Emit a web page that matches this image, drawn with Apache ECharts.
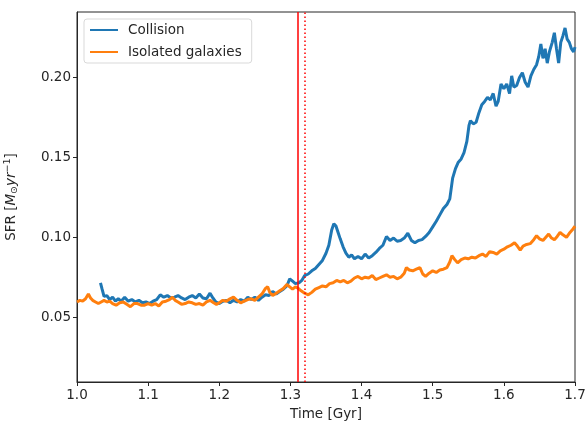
<!DOCTYPE html>
<html>
<head>
<meta charset="utf-8">
<script src="https://cdn.jsdelivr.net/npm/echarts@6/dist/echarts.min.js"></script>
<style>
  html, body { margin: 0; padding: 0; background: #fff; }
</style>
</head>
<body>
<div id="container" style="width:585px;height:427px;"></div>
<script type="text/javascript">
var collisionTime = [1.033,1.035,1.038,1.042,1.046,1.050,1.054,1.058,1.062,1.067,1.072,1.077,1.082,1.087,1.092,1.097,1.102,1.107,1.112,1.117,
  1.122,1.127,1.132,1.137,1.142,1.147,1.152,1.157,1.162,1.167,1.172,1.177,1.182,1.187,1.191,1.195,1.200,1.205,1.210,1.215,
  1.220,1.225,1.230,1.235,1.240,1.245,1.250,1.255,1.260,1.265,1.270,1.275,1.280,1.285,1.290,1.295,1.299,1.303,1.307,1.312,
  1.316,1.320,1.325,1.330,1.335,1.340,1.345,1.350,1.354,1.358,1.361,1.364,1.367,1.370,1.374,1.378,1.382,1.386,1.390,1.395,
  1.400,1.405,1.410,1.415,1.420,1.425,1.430,1.435,1.440,1.445,1.450,1.455,1.460,1.465,1.470,1.475,1.480,1.485,1.490,1.495,
  1.500,1.505,1.510,1.515,1.520,1.524,1.528,1.532,1.536,1.540,1.544,1.548,1.551,1.553,1.557,1.561,1.565,1.569,1.573,1.577,
  1.581,1.585,1.589,1.592,1.596,1.600,1.604,1.608,1.611,1.614,1.618,1.622,1.626,1.630,1.634,1.638,1.642,1.646,1.649,1.652,
  1.655,1.658,1.661,1.664,1.668,1.671,1.674,1.677,1.680,1.683,1.686,1.689,1.692,1.695,1.698,1.700];
var collisionSfr = [0.0715,0.068,0.063,0.0635,0.061,0.0625,0.060,0.0615,0.060,0.0625,0.060,0.061,0.0595,0.0605,0.059,0.0595,0.0585,0.060,0.061,0.064,
  0.0625,0.0635,0.062,0.0625,0.0635,0.062,0.061,0.0625,0.0635,0.062,0.0645,0.062,0.0615,0.065,0.062,0.0595,0.0585,0.060,0.0605,0.059,
  0.0605,0.0595,0.061,0.060,0.0625,0.061,0.0625,0.0605,0.0625,0.064,0.0635,0.066,0.0645,0.066,0.0675,0.0695,0.074,0.0725,0.071,0.0715,
  0.073,0.076,0.077,0.079,0.0805,0.083,0.0855,0.090,0.095,0.1045,0.1085,0.107,0.103,0.099,0.094,0.090,0.0875,0.089,0.0865,0.088,
  0.0865,0.0895,0.087,0.0885,0.0905,0.093,0.095,0.1005,0.098,0.0995,0.0975,0.098,0.0995,0.1025,0.098,0.0965,0.098,0.0985,0.1005,0.103,
  0.1065,0.110,0.114,0.118,0.1205,0.124,0.137,0.143,0.147,0.149,0.153,0.160,0.170,0.173,0.171,0.172,0.178,0.183,0.185,0.1875,
  0.186,0.190,0.182,0.185,0.196,0.193,0.196,0.190,0.201,0.194,0.195,0.200,0.203,0.197,0.194,0.201,0.205,0.208,0.213,0.221,
  0.212,0.218,0.209,0.216,0.222,0.228,0.218,0.209,0.222,0.226,0.231,0.224,0.222,0.218,0.216,0.219];

var isolatedTime = [1.000,1.004,1.008,1.012,1.016,1.019,1.022,1.026,1.030,1.034,1.038,1.042,1.046,1.050,1.055,1.060,1.065,1.070,1.075,1.080,
  1.085,1.090,1.095,1.100,1.105,1.110,1.115,1.120,1.125,1.130,1.134,1.138,1.142,1.147,1.152,1.157,1.162,1.167,1.172,1.177,
  1.182,1.187,1.192,1.196,1.200,1.205,1.210,1.215,1.220,1.225,1.230,1.235,1.240,1.245,1.250,1.255,1.260,1.265,1.268,1.271,
  1.275,1.280,1.285,1.290,1.295,1.299,1.303,1.307,1.311,1.315,1.320,1.325,1.330,1.335,1.340,1.345,1.350,1.355,1.360,1.365,
  1.370,1.375,1.380,1.385,1.390,1.395,1.400,1.405,1.410,1.415,1.420,1.425,1.430,1.435,1.440,1.445,1.450,1.455,1.460,1.463,
  1.467,1.472,1.477,1.482,1.486,1.490,1.495,1.500,1.505,1.510,1.515,1.520,1.524,1.527,1.531,1.535,1.540,1.545,1.550,1.555,
  1.560,1.565,1.570,1.575,1.580,1.585,1.590,1.595,1.600,1.605,1.610,1.615,1.619,1.623,1.627,1.632,1.637,1.642,1.646,1.650,
  1.655,1.659,1.663,1.667,1.671,1.675,1.679,1.683,1.688,1.692,1.696,1.700];
var isolatedSfr = [0.0595,0.0605,0.060,0.0615,0.0645,0.062,0.0605,0.0595,0.0585,0.0595,0.0605,0.0595,0.060,0.0585,0.0575,0.059,0.0595,0.058,0.0565,0.0585,
  0.0585,0.0575,0.0575,0.0585,0.0575,0.0585,0.057,0.0595,0.060,0.061,0.0625,0.0605,0.0595,0.058,0.0585,0.0595,0.059,0.058,0.0585,0.0575,
  0.0595,0.0605,0.059,0.058,0.059,0.0605,0.060,0.0615,0.0625,0.0605,0.059,0.060,0.061,0.0615,0.0605,0.0625,0.0645,0.068,0.069,0.0655,
  0.0635,0.065,0.0665,0.068,0.0705,0.069,0.0675,0.069,0.068,0.0665,0.065,0.064,0.0655,0.0675,0.0685,0.0695,0.069,0.071,0.0715,0.073,
  0.072,0.073,0.0715,0.0725,0.0745,0.0755,0.074,0.075,0.0745,0.076,0.0735,0.0745,0.0755,0.0765,0.075,0.0755,0.074,0.075,0.0775,0.081,
  0.0795,0.079,0.080,0.081,0.077,0.0755,0.0775,0.079,0.078,0.0795,0.080,0.081,0.0845,0.0885,0.086,0.084,0.086,0.087,0.0865,0.0875,
  0.087,0.0885,0.0895,0.088,0.091,0.0905,0.0895,0.0915,0.0925,0.094,0.095,0.0965,0.0945,0.092,0.0945,0.0955,0.096,0.0985,0.101,0.099,
  0.098,0.100,0.102,0.0995,0.0985,0.1005,0.103,0.1015,0.100,0.1025,0.1045,0.107];

// collision time (solid) and first passage (dotted)
var markTimes = [1.311, 1.325];
var yTicks = [0.05, 0.10, 0.15, 0.20];

function pairs(xs, ys) {
    var out = [];
    for (var i = 0; i < xs.length; i++) {
        out.push([xs[i], ys[i]]);
    }
    return out;
}

var dom = document.getElementById("container");
var myChart = echarts.init(dom, null, {renderer: 'canvas'});
var textColor = '#262626';
var option = {
    animation: false,
    backgroundColor: '#fff',
    textStyle: {fontFamily: 'DejaVu Sans'},
    grid: {
        left: 77, right: 10, top: 12, bottom: 45,
        containLabel: false, outerBoundsMode: 'none',
        show: true, borderColor: '#262626', borderWidth: 1
    },
    legend: {
        orient: 'vertical',
        left: 84, top: 19,
        padding: [4, 10, 4, 6],
        itemWidth: 28, itemHeight: 2, itemGap: 8,
        borderColor: '#d9d9d9', borderWidth: 1, borderRadius: 3,
        backgroundColor: 'rgba(255,255,255,0.8)',
        textStyle: {fontSize: 13.5, color: textColor, fontFamily: 'DejaVu Sans', padding: [0, 0, 0, 5]},
        data: [
            {name: 'Collision', icon: 'rect'},
            {name: 'Isolated galaxies', icon: 'rect'}
        ]
    },
    xAxis: {
        type: 'value',
        min: 1.0, max: 1.7, interval: 0.1,
        name: 'Time [Gyr]', nameLocation: 'middle', nameGap: 25,
        nameTextStyle: {fontSize: 13.5, color: textColor},
        axisLine: {lineStyle: {color: '#262626'}},
        axisTick: {length: 4, lineStyle: {color: '#262626'}},
        axisLabel: {fontSize: 13.5, color: textColor, margin: 6,
            formatter: function (v) { return v.toFixed(1); }},
        splitLine: {show: false}
    },
    yAxis: {
        type: 'value',
        min: 0.0094, max: 0.241,
        name: '{n|SFR [}{i|M}{s|⊙}{i|yr}{p|−1}{n|]}',
        nameLocation: 'middle', nameGap: 57,
        nameTextStyle: {
            fontSize: 13.5, color: textColor,
            rich: {
                n: {fontSize: 13.5, color: textColor, fontFamily: 'DejaVu Sans'},
                i: {fontSize: 13.5, color: textColor, fontFamily: 'DejaVu Sans', fontStyle: 'italic'},
                s: {fontSize: 9.5, color: textColor, fontFamily: 'DejaVu Sans', padding: [6, 0, 0, 0]},
                p: {fontSize: 9.5, color: textColor, fontFamily: 'DejaVu Sans', padding: [0, 0, 7, 0]}
            }
        },
        axisLine: {show: true, lineStyle: {color: '#262626'}},
        axisTick: {show: true, length: 4, lineStyle: {color: '#262626'}, customValues: yTicks},
        axisLabel: {fontSize: 13.5, color: textColor, margin: 6, customValues: yTicks,
            formatter: function (v) { return v.toFixed(2); }},
        splitLine: {show: false}
    },
    series: [
        {
            name: 'Collision', type: 'line', showSymbol: false,
            color: '#1f77b4',
            lineStyle: {width: 3, color: '#1f77b4'},
            data: pairs(collisionTime, collisionSfr)
        },
        {
            name: 'Isolated galaxies', type: 'line', showSymbol: false,
            color: '#ff7f0e',
            lineStyle: {width: 3, color: '#ff7f0e'},
            data: pairs(isolatedTime, isolatedSfr)
        },
        {
            type: 'line', data: [], z: 5,
            markLine: {
                silent: true, symbol: 'none', label: {show: false},
                data: [
                    {xAxis: markTimes[0], lineStyle: {color: '#ff0000', width: 1.5, type: 'solid'}},
                    {xAxis: markTimes[1], lineStyle: {color: '#ff0000', width: 1.5, type: [1.5, 2.5]}}
                ]
            }
        }
    ]
};

if (option && typeof option === "object") {
    myChart.setOption(option, true);
}
</script>
</body>
</html>
